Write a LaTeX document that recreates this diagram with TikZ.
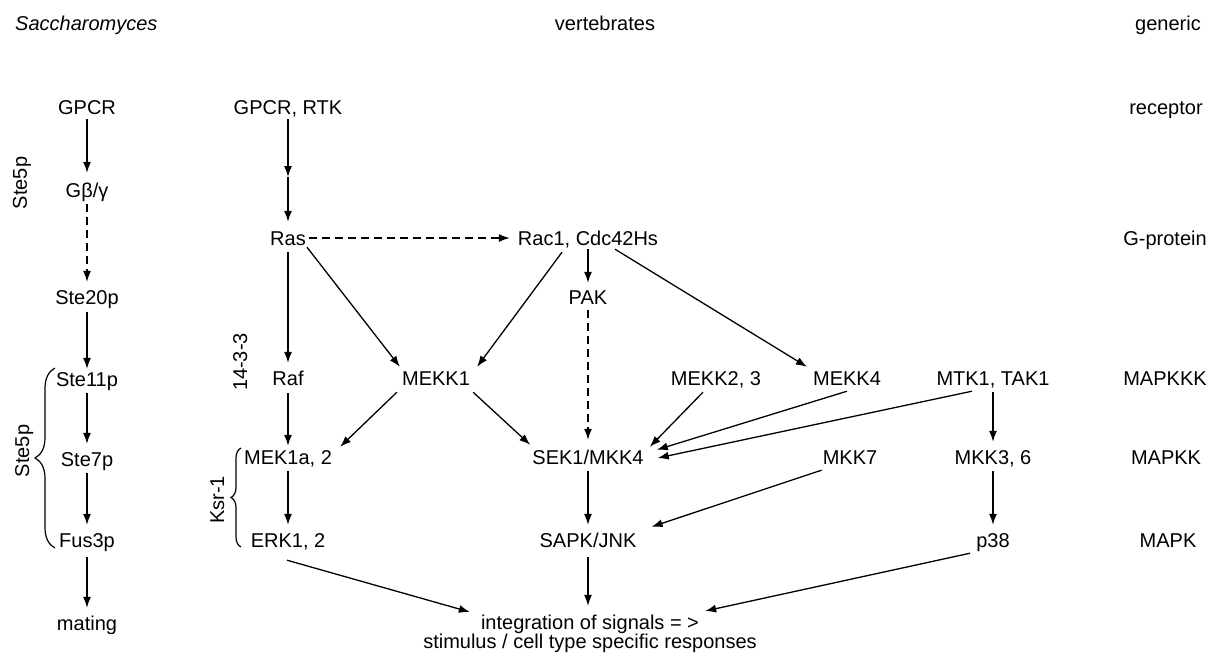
\documentclass[tikz,border=0pt]{standalone}
\usepackage{fontspec}
\setmainfont{Liberation Sans}
\usetikzlibrary{arrows.meta,decorations.pathreplacing}
\begin{document}
\begin{tikzpicture}[x=1pt,y=-1pt,
  every node/.style={inner sep=0pt, text height=14pt, text depth=0pt, font=\fontsize{20}{24}\selectfont},
  arr/.style={line width=1.3pt, -{Latex[length=11pt,width=8pt]}},
  varr/.style={arr, shorten <=7pt, shorten >=8pt},
  dsh/.style={dash pattern=on 8pt off 5pt},
  brc/.style={decorate, line width=1.2pt, decoration={brace, amplitude=#1}}
]
\useasboundingbox (0,0) rectangle (1210,656);

% headers
\node[anchor=west] (sacch) at (15,23) {\itshape Saccharomyces};
\node (vert) at (605,23) {vertebrates};
\node (gen) at (1168,23) {generic};

% yeast column
\node (gpcr) at (87,107) {GPCR};
\node (gbg) at (87,190) {Gβ/γ};
\node (ste20) at (87,297) {Ste20p};
\node (ste11) at (87,379) {Ste11p};
\node (ste7) at (87,459) {Ste7p};
\node (fus3) at (87,540) {Fus3p};
\node (mating) at (87,623) {mating};
\node[rotate=90] (ste5a) at (20,183) {Ste5p};
\node[rotate=90] (ste5b) at (22,451) {Ste5p};

% vertebrates
\node (grtk) at (288,107) {GPCR, RTK};
\node (ras) at (288,238) {Ras};
\node (raf) at (288,378) {Raf};
\node (mek) at (288,457) {MEK1a, 2};
\node (erk) at (288,540) {ERK1, 2};
\node[rotate=90] (t1433) at (240,362) {14-3-3};
\node[rotate=90] (ksr) at (217,500) {Ksr-1};

\node (rac) at (588,238) {Rac1, Cdc42Hs};
\node (pak) at (588,297) {PAK};
\node (mekk1) at (436,378) {MEKK1};
\node (sek) at (588,457) {SEK1/MKK4};
\node (sapk) at (588,540) {SAPK/JNK};

\node (mekk23) at (716,378) {MEKK2, 3};
\node (mekk4) at (847,378) {MEKK4};
\node (mtk) at (993,378) {MTK1, TAK1};
\node (mkk7) at (850,457) {MKK7};
\node (mkk36) at (993,457) {MKK3, 6};
\node (p38) at (993,540) {p38};

\node (integ1) at (590,622) {integration of signals = >};
\node (integ2) at (590,641) {stimulus / cell type specific responses};

% generic column
\node (receptor) at (1166,107) {receptor};
\node (gprot) at (1165,238) {G-protein};
\node (mapkkk) at (1165,378) {MAPKKK};
\node (mapkk) at (1166,457) {MAPKK};
\node (mapk) at (1168,540) {MAPK};

% braces
\coordinate (b1s) at (55,548);
\coordinate (b1e) at (55,368);
\draw[brc=20pt] (b1s) -- (b1e);
\coordinate (b2s) at (241,547);
\coordinate (b2e) at (241,448);
\draw[brc=10pt] (b2s) -- (b2e);

% yeast arrows
\draw[arr, shorten <=5pt, shorten >=10pt] (gpcr) -- (gbg);
\draw[varr, dsh] (gbg) -- (ste20);
\draw[arr, shorten <=8pt, shorten >=3pt] (ste20) -- (ste11);
\draw[varr] (ste11) -- (ste7);
\draw[varr] (ste7) -- (fus3);
\draw[arr, shorten <=10pt, shorten >=8pt] (fus3) -- (mating);

% vertebrate arrows
\coordinate (rtkm) at (288,177);
\draw[arr, shorten <=5pt] (grtk) -- (rtkm);
\draw[arr, shorten >=9pt] (rtkm) -- (ras);
\draw[arr, dsh, shorten <=3pt, shorten >=8pt] (ras) -- (rac);
\draw[varr] (ras) -- (raf);
\draw[arr] ([shift={(1,2)}]ras.south east) -- ([shift={(-2,-4)}]mekk1.north west);
\draw[arr] ([shift={(-26,7)}]rac.south) -- ([shift={(7,-4)}]mekk1.north east);
\draw[arr, shorten <=4pt, shorten >=7pt] (rac) -- (pak);
\draw[arr] ([shift={(27,4)}]rac.south) -- ([shift={(-6,-4)}]mekk4.north west);
\draw[arr, dsh, shorten <=6pt, shorten >=10pt] (pak) -- (sek);
\draw[arr, shorten <=8pt, shorten >=4pt] (raf) -- (mek);
\draw[arr] ([shift={(-5,7)}]mekk1.south west) -- ([shift={(8,-3)}]mek.north east);
\draw[arr] ([shift={(3,7)}]mekk1.south east) -- ([shift={(-2,-5)}]sek.north west);
\draw[arr] ([shift={(-13,7)}]mekk23.south) -- ([shift={(6,-3)}]sek.north east);
\draw[arr] ([shift={(0,6)}]mekk4.south) -- ([shift={(13,0)}]sek.north east);
\draw[arr] ([shift={(-21,6)}]mtk.south) -- ([shift={(14,1)}]sek.east);
\draw[varr] (mtk) -- (mkk36);
\draw[varr] (mek) -- (erk);
\draw[varr] (sek) -- (sapk);
\draw[arr] ([shift={(-1,6)}]mkk7.south west) -- ([shift={(15,-6)}]sapk.north east);
\draw[varr] (mkk36) -- (p38);
\draw[arr] ([shift={(-1,13)}]erk.south) -- ([shift={(-11,-10)}]integ1.west);
\draw[arr, shorten <=10pt, shorten >=9pt] (sapk.south) -- (sapk.south |- integ1.north);
\draw[arr] ([shift={(-6,6)}]p38.south west) -- ([shift={(6,-11)}]integ1.east);
\end{tikzpicture}
\end{document}
